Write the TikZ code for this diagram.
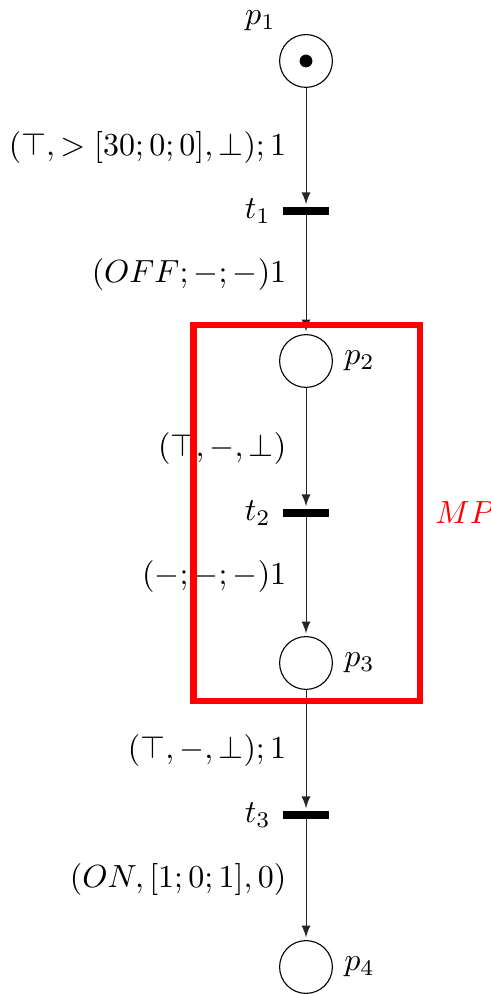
\documentclass[tikz,border=0pt]{standalone}
\usepackage{tikz}
\usetikzlibrary{arrows}

\begin{document}
\begin{tikzpicture}[
    x=.3125pt, y=-.3125pt,
    place/.style={circle, draw, line width=.35pt, minimum size=16.5pt,
        inner sep=0pt},
    transition/.style={rectangle, fill=black, minimum width=14.6pt,
        minimum height=2.2pt, inner sep=0pt, label distance=-.8pt},
    token/.style={circle, fill=black, minimum size=4pt, inner sep=0pt},
    arc/.style={->, >=latex, line width=.3pt, draw=black!85,
        shorten >=.8pt},
    arclabel/.style={left=2.7pt},
    mpline/.style={draw=red, line width=2pt},
]
    \useasboundingbox (0,0) rectangle (491,994);

    %% places and transitions, top to bottom
    \node[place, label=above left:$p_1$] (p1) at (306, 61) {};
    \node[token] (tok) at (p1) {};
    \node[transition, label=left:$t_1$] (t1) at (306, 211) {};
    \node[place, label=right:$p_2$] (p2) at (306, 361) {};
    \node[transition, label=left:$t_2$] (t2) at (306, 513) {};
    \node[place, label=right:$p_3$] (p3) at (306, 663) {};
    \node[transition, label=left:$t_3$] (t3) at (306, 815) {};
    \node[place, label=right:$p_4$] (p4) at (306, 967) {};

    %% the arcs with their inscriptions
    \draw[arc] (p1) -- node[arclabel] {$(\top,>[30;0;0],\bot);1$} (t1);
    \draw[arc] (t1) -- node[arclabel] {$(OFF;-;-)1$} (p2);
    \draw[arc] (p2) -- node[arclabel] {$(\top,-,\bot)$} (t2);
    \draw[arc] (t2) -- node[arclabel] {$(-;-;-)1$} (p3);
    \draw[arc] (p3) -- node[arclabel] {$(\top,-,\bot);1$} (t3);
    \draw[arc] (t3) -- node[arclabel] {$(ON,[1;0;1],0)$} (p4);

    %% the MP box round p2, t2 and p3
    \draw[mpline] (193.5, 325) rectangle (420, 701);
    \node[anchor=west, text=red] (mp) at (424, 513) {$MP$};
\end{tikzpicture}
\end{document}
